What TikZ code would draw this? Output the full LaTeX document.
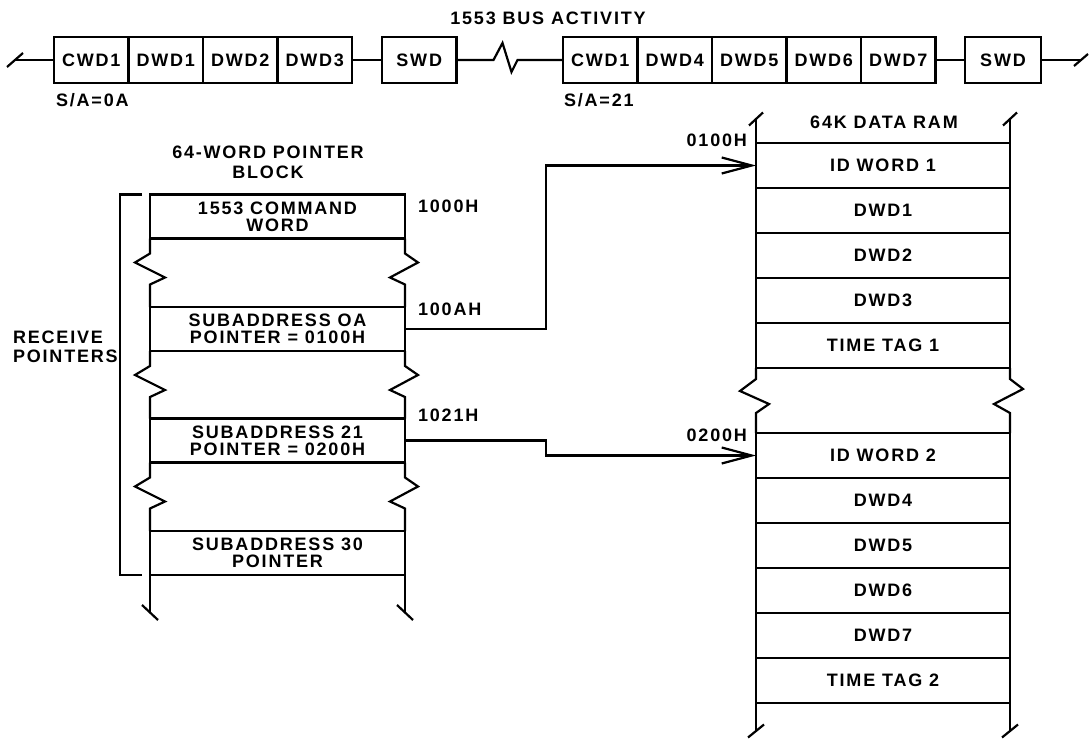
\documentclass[tikz,border=0pt]{standalone}
\usepackage{fontspec}
\setmainfont{Liberation Sans Bold}[LetterSpace=10]
\usetikzlibrary{positioning,calc,arrows.meta}
\tikzset{
    word/.style = {draw, rectangle, outer sep=0pt, inner sep=0pt,
        minimum height=46pt,
        minimum width=74.5pt},
    cell/.style = {draw, rectangle, outer sep=0pt, inner sep=0pt, align=center,
        minimum height=44pt,
        minimum width=255pt},
    ramcell/.style = {cell, minimum height=45pt, minimum width=254pt},
    addr/.style = {inner sep=0pt},
    head/.style = {align=center, inner sep=0pt, font=\fontsize{18}{20}\selectfont},
    arrow/.style = {draw, -{Straight Barb[length=30pt,width=16pt]}}
}

\begin{document}
\begin{tikzpicture}[x=1pt, y=-1pt, line width=2.2pt, font=\fontsize{18}{17}\selectfont]
                \useasboundingbox (0,0) rectangle (1089,741);
                % bus activity
                \node[head] (titleBus) at (548,18) {1553 BUS ACTIVITY};
                \node[word, anchor=west] (cwdA) at (54,60) {CWD1};
                \node[word, right=0pt of cwdA] (dwdA) {DWD1};
                \node[word, right=0pt of dwdA] (dwdB) {DWD2};
                \node[word, right=0pt of dwdB] (dwdC) {DWD3};
                \node[word, anchor=west] (swdA) at (382,60) {SWD};
                \node[word, anchor=west] (cwdB) at (563,60) {CWD1};
                \node[word, right=0pt of cwdB] (dwdD) {DWD4};
                \node[word, right=0pt of dwdD] (dwdE) {DWD5};
                \node[word, right=0pt of dwdE] (dwdF) {DWD6};
                \node[word, right=0pt of dwdF] (dwdG) {DWD7};
                \node[word, anchor=west, minimum width=76pt] (swdB) at (965,60) {SWD};
                \node[addr, anchor=west] (saA) at (55,100) {S/A=0A};
                \node[addr, anchor=west] (saB) at (563,100) {S/A=21};
                \coordinate (busL) at (15,60);
                \coordinate (busR) at (1081,60);
                \draw (busL) -- (cwdA);
                \draw (dwdC) -- (swdA);
                \draw (swdA.east) -- ++(37,0) -- ++(9,-17) -- ++(9,29) -- ++(6,-12) -- (cwdB.west);
                \draw (dwdG) -- (swdB);
                \draw (swdB) -- (busR);
                \draw (busL) ++(-8,7) -- ++(16,-14);
                \draw (busR) ++(-7,6) -- ++(14,-12);
                % pointer block
                \node[head] (titlePtr) at (268,162) {64-WORD POINTER\\BLOCK};
                \node[cell] (cmd) at (277.5,216.5) {1553 COMMAND\\WORD};
                \node[cell] (sub0A) at (277.5,329) {SUBADDRESS OA\\POINTER = 0100H};
                \node[cell] (sub21) at (277.5,440.5) {SUBADDRESS 21\\POINTER = 0200H};
                \node[cell] (sub30) at (277.5,553) {SUBADDRESS 30\\POINTER};
                \foreach \a/\b in {cmd/sub0A,sub0A/sub21,sub21/sub30} {
                    \draw (\a.south west) -- ++(0,15) -- ++(-15,9) -- ++(30,15) -- ++(-15,7) -- (\b.north west);
                    \draw (\a.south east) -- ++(0,15) -- ++(13,9) -- ++(-28,15) -- ++(15,7) -- (\b.north east);
                }
                \coordinate (ptrBL) at ($(sub30.south west)+(0,37)$);
                \coordinate (ptrBR) at ($(sub30.south east)+(0,37)$);
                \draw (sub30.south west) -- (ptrBL);
                \draw (sub30.south east) -- (ptrBR);
                \draw (ptrBL) ++(-8,-7) -- ++(16,15);
                \draw (ptrBR) ++(-8,-7) -- ++(16,15);
                \draw ($(cmd.north west)+(-8,0)$) -- ++(-22,0) |- ($(sub30.south west)+(-8,0)$);
                \node[head, align=left, anchor=west, font=\fontsize{18}{19}\selectfont] (recv) at (12,346.5) {RECEIVE\\POINTERS};
                \node[addr, anchor=west] (aCmd) at (417,206) {1000H};
                \node[addr, anchor=west] (a0A) at (417,309) {100AH};
                \node[addr, anchor=west] (a21) at (417,415) {1021H};
                % data ram
                \node[head] (titleRam) at (884,122) {64K DATA RAM};
                \node[ramcell, anchor=north] (idw1) at (883,143) {ID WORD 1};
                \node[ramcell, below=0pt of idw1] (ram1) {DWD1};
                \node[ramcell, below=0pt of ram1] (ram2) {DWD2};
                \node[ramcell, below=0pt of ram2] (ram3) {DWD3};
                \node[ramcell, below=0pt of ram3] (tt1) {TIME TAG 1};
                \node[ramcell, anchor=north] (idw2) at (883,433) {ID WORD 2};
                \node[ramcell, below=0pt of idw2] (ram4) {DWD4};
                \node[ramcell, below=0pt of ram4] (ram5) {DWD5};
                \node[ramcell, below=0pt of ram5] (ram6) {DWD6};
                \node[ramcell, below=0pt of ram6] (ram7) {DWD7};
                \node[ramcell, below=0pt of ram7] (tt2) {TIME TAG 2};
                \coordinate (ramTL) at ($(idw1.north west)+(0,-24)$);
                \coordinate (ramTR) at ($(idw1.north east)+(0,-24)$);
                \draw (ramTL) -- (idw1.north west);
                \draw (ramTR) -- (idw1.north east);
                \draw (ramTL) ++(-7,6.5) -- ++(14,-13);
                \draw (ramTR) ++(-7,6.5) -- ++(14,-13);
                \draw (tt1.south west) -- ++(0,11) -- ++(-16,12) -- ++(29,13) -- ++(-13,9) -- (idw2.north west);
                \draw (tt1.south east) -- ++(0,11) -- ++(13,10) -- ++(-29,15) -- ++(16,9) -- (idw2.north east);
                \coordinate (ramBL) at ($(tt2.south west)+(0,28)$);
                \coordinate (ramBR) at ($(tt2.south east)+(0,28)$);
                \draw (tt2.south west) -- (ramBL);
                \draw (tt2.south east) -- (ramBR);
                \draw (ramBL) ++(-8,6.5) -- ++(16,-13);
                \draw (ramBR) ++(-8,6.5) -- ++(16,-13);
                \node[addr, anchor=east] (aId1) at (748,140) {0100H};
                \node[addr, anchor=east] (aId2) at (748,435) {0200H};
                % pointers
                \draw[arrow] (sub0A.east) -- ++(141,0) |- (idw1.west);
                \draw[arrow] (sub21.east) -- ++(141,0) |- (idw2.west);
            \end{tikzpicture}
\end{document}
